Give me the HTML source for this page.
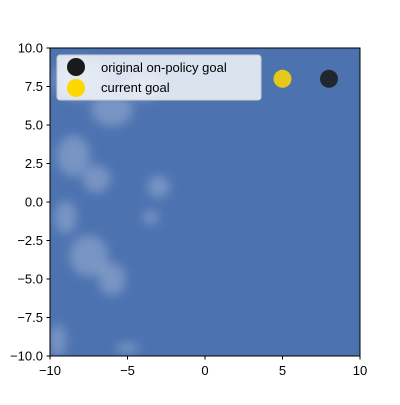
<!DOCTYPE html>
<html><head><meta charset="utf-8">
<style>
body{margin:0;background:#fff;}
svg text{font-family:"Liberation Sans","DejaVu Sans",sans-serif;}
</style></head>
<body>
<svg id="chart" width="400" height="400" viewBox="0 0 400 400">
<defs>
<filter id="blur" x="-50%" y="-50%" width="200%" height="200%"><feGaussianBlur stdDeviation="5"/></filter>
<clipPath id="clip"><rect x="50" y="48" width="310" height="308"/></clipPath>
</defs>
<rect x="50" y="48" width="310" height="308" fill="#4c72b0"/>
<g id="patches" clip-path="url(#clip)" filter="url(#blur)"></g>
<g id="goals"></g>
<rect x="50" y="48" width="310" height="308" fill="none" stroke="#000" stroke-width="1"/>
<g id="axes"></g>
<g>
<rect x="57" y="55" width="204" height="45" rx="3" fill="#fff" fill-opacity="0.8" stroke="#ccc"/>
<circle cx="76" cy="67" r="9" fill="#1a1a1a"/>
<text x="101" y="72" font-size="13">original on-policy goal</text>
<circle cx="76" cy="88" r="9" fill="#ffd700"/>
<text x="101" y="92" font-size="13">current goal</text>
</g>
</svg>
<script>
const xTicks=[-10,-5,0,5,10];
const yTicks=[-10,-7.5,-5,-2.5,0,2.5,5,7.5,10];
const goalNames=["original-goal","current-goal"];
const goalX=[8,5];
const goalY=[8,8];
const goalColors=["#1a1a1a","#ffd700"];
// sparse (white) regions: x, y, rx, ry in data units
const patchX=[-8,-6,-8.5,-7,-4,-3,-9,-7.5,-6,-3.5,-9.5,-5];
const patchY=[8,6,3,1.5,7.5,1,-1,-3.5,-5,-1,-9,-9.5];
const patchRX=[2,1.5,1.2,1,1.2,0.8,0.8,1.4,1,0.6,0.6,0.8];
const patchRY=[1.5,1.2,1.5,1,1,0.8,1.2,1.5,1.2,0.5,1.2,0.4];
const X=v=>50+(v+10)*15.5;
const Y=v=>356-(v+10)*15.4;
const NS="http://www.w3.org/2000/svg";
const ax=document.getElementById('axes');
function mk(t,a,p){const e=document.createElementNS(NS,t);for(const k in a)e.setAttribute(k,a[k]);p.appendChild(e);return e;}
xTicks.forEach(v=>{
 const l=mk('line',{x1:X(v),x2:X(v),y1:356,y2:359.5,stroke:'#000'},ax);
 
 
 const t=mk('text',{x:X(v),y:375,'font-size':13,'text-anchor':'middle'},ax);
 t.textContent=String(v).replace('-','\u2212');
 
 
});
yTicks.forEach(v=>{
 const l=mk('line',{x1:46.5,x2:50,y1:Y(v),y2:Y(v),stroke:'#000'},ax);
 
 
 const t=mk('text',{x:43,y:Y(v)+4.5,'font-size':13,'text-anchor':'end'},ax);
 t.textContent=v.toFixed(1).replace('-','\u2212');
 
 
});
const pg=document.getElementById('patches');
patchX.forEach((px,i)=>{
 const e=mk('ellipse',{cx:X(px),cy:Y(patchY[i]),rx:patchRX[i]*15.5*0.9,ry:patchRY[i]*15.4*0.9,fill:'#dfe6f2','fill-opacity':0.3},pg);
 
 
});
const gg=document.getElementById('goals');
goalX.forEach((gx,i)=>{
 const c=mk('circle',{cx:X(gx),cy:Y(goalY[i]),r:9,fill:goalColors[i],'fill-opacity':0.85},gg);
 
 
});
</script>
</body></html>
